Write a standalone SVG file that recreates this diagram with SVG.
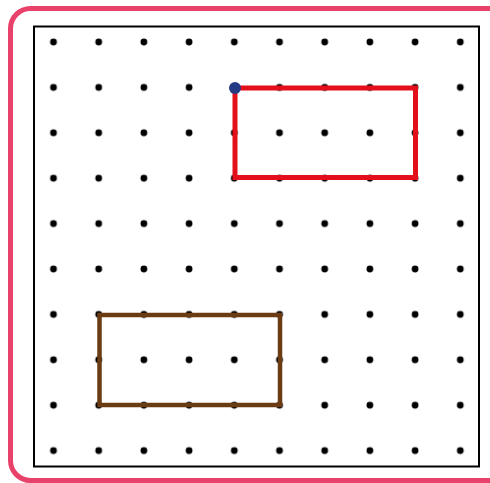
<svg xmlns="http://www.w3.org/2000/svg" width="490" height="483" viewBox="0 0 490 483">
<defs>
<style>
.dot{fill:#000}
.frame{fill:none;stroke:#e8416a;stroke-width:5}
.box{fill:none;stroke:#000;stroke-width:2}
.shape{fill:none;stroke-linejoin:miter}
</style>
<pattern id="dots" x="53.5" y="42" width="45.2" height="45.4" patternUnits="userSpaceOnUse">
<circle cx="0" cy="0" r="3.4" class="dot"/>
<circle cx="45.2" cy="0" r="3.4" class="dot"/>
<circle cx="0" cy="45.4" r="3.4" class="dot"/>
<circle cx="45.2" cy="45.4" r="3.4" class="dot"/>
</pattern>
</defs>
<rect x="0" y="0" width="490" height="483" fill="#fff"/>
<rect class="frame" x="10.5" y="8.5" width="500" height="472" rx="20"/>
<g id="board">
<rect class="box" x="34" y="26.5" width="445" height="440"/>
<rect x="48" y="36" width="418" height="422" fill="url(#dots)"/>
</g>
<g id="shapes">
<g id="brown-rect"><rect class="shape" x="99.5" y="315" width="180.5" height="90" stroke="#6b3c14" stroke-width="4.5"/></g>
<g id="red-rect"><rect class="shape" x="235" y="88" width="180.5" height="89.5" stroke="#e3101c" stroke-width="5"/></g>
<g id="start-point"><circle cx="235" cy="88" r="6" fill="#253a85"/></g>
</g>
</svg>
